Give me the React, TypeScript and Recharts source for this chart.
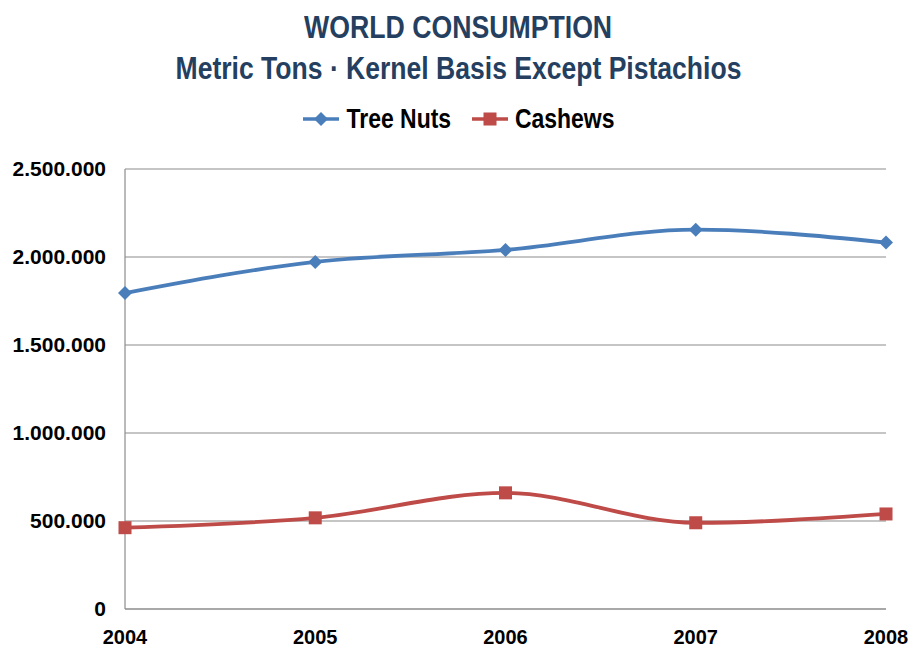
import { LineChart, Line, XAxis, YAxis, CartesianGrid } from "recharts";

const years = ["2004", "2005", "2006", "2007", "2008"];
const treeNuts = [1795000, 1972000, 2040000, 2155000, 2082000];
const cashews = [462000, 518000, 660000, 490000, 540000];
const yTicks = [0, 500000, 1000000, 1500000, 2000000, 2500000];

const data = years.map((y, i) => ({ year: y, treeNuts: treeNuts[i], cashews: cashews[i] }));

const BLUE = "#4A7EBB";
const RED = "#BE4B48";
const SANS = '"Liberation Sans", Arial, sans-serif';

const fmt = (v: number) => String(v).replace(/\B(?=(\d{3})+(?!\d))/g, ".");

function Diamond(props: any) {
  const { cx, cy } = props;
  if (cx == null || cy == null) return null;
  const r = 7;
  return <polygon points={`${cx},${cy - r} ${cx + r},${cy} ${cx},${cy + r} ${cx - r},${cy}`} fill={BLUE} />;
}

function Square(props: any) {
  const { cx, cy } = props;
  if (cx == null || cy == null) return null;
  return <rect x={cx - 6.5} y={cy - 6.5} width={13} height={13} fill={RED} />;
}

// no narrow font installed, so squeeze the text horizontally
const narrow = (scale: number): React.CSSProperties => ({
  display: "inline-block",
  transform: `scaleX(${scale})`,
  transformOrigin: "center",
  whiteSpace: "nowrap",
});

function LegendBox() {
  const item = (color: string, label: string, marker: React.ReactNode, gap: number) => (
    <span style={{ display: "inline-flex", alignItems: "center", marginLeft: gap }}>
      <svg width={38} height={16}>
        <line x1={1} y1={8} x2={37} y2={8} stroke={color} strokeWidth={3.5} />
        {marker}
      </svg>
      <span style={{ ...narrow(0.82), marginLeft: -5 }}>{label}</span>
    </span>
  );
  return (
    <div
      style={{
        position: "absolute",
        top: 102,
        left: 0,
        width: 916,
        paddingLeft: 12,
        boxSizing: "border-box",
        textAlign: "center",
        fontFamily: SANS,
        fontWeight: 700,
        fontSize: 28,
        color: "#000",
      }}
    >
      {item(BLUE, "Tree Nuts", <polygon points="19,1 26,8 19,15 12,8" fill={BLUE} />, 0)}
      {item(RED, "Cashews", <rect x={12.5} y={1.5} width={13} height={13} fill={RED} />, 8)}
    </div>
  );
}

export default function App() {
  return (
    <div style={{ position: "absolute", left: 0, top: 0, width: 910, height: 648, background: "#fff" }}>
      <div
        style={{
          position: "absolute",
          top: 7,
          left: 0,
          width: 916,
          textAlign: "center",
          fontFamily: SANS,
          fontWeight: 700,
          fontSize: 31,
          lineHeight: "41px",
          color: "#243F60",
        }}
      >
        <div>
          <span style={narrow(0.86)}>WORLD CONSUMPTION</span>
        </div>
        <div>
          <span style={narrow(0.856)}>Metric Tons · Kernel Basis Except Pistachios</span>
        </div>
      </div>
      <LegendBox />
      <LineChart
        style={{ position: "absolute", left: 0, top: 0 }}
        width={910}
        height={648}
        data={data}
        margin={{ top: 169, right: 24, bottom: 9, left: 0 }}
      >
        <CartesianGrid vertical={false} stroke="#8C8C8C" strokeWidth={1.2} />
        <XAxis
          dataKey="year"
          axisLine={{ stroke: "#8C8C8C", strokeWidth: 1.2 }}
          tickLine={false}
          height={30}
          tick={{ fill: "#000", fontSize: 20, fontWeight: 700, fontFamily: SANS }}
          tickMargin={15}
          interval={0}
        />
        <YAxis
          width={125}
          domain={[0, 2500000]}
          ticks={yTicks}
          tickFormatter={fmt}
          axisLine={{ stroke: "#8C8C8C", strokeWidth: 1.2 }}
          tickLine={false}
          tickMargin={13}
          tick={{ fill: "#000", fontSize: 21, fontWeight: 700, fontFamily: SANS }}
        />
        <Line
          type="monotone"
          dataKey="treeNuts"
          name="Tree Nuts"
          stroke={BLUE}
          strokeWidth={3.8}
          dot={<Diamond />}
          activeDot={false}
          isAnimationActive={false}
        />
        <Line
          type="monotone"
          dataKey="cashews"
          name="Cashews"
          stroke={RED}
          strokeWidth={3.8}
          dot={<Square />}
          activeDot={false}
          isAnimationActive={false}
        />
      </LineChart>
    </div>
  );
}
